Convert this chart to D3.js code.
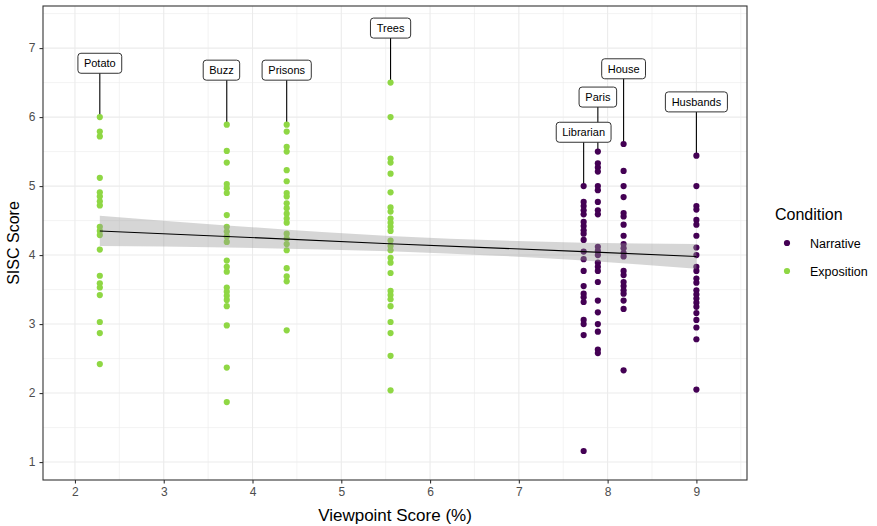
<!DOCTYPE html>
<html>
<head>
<meta charset="utf-8">
<script src="https://cdn.jsdelivr.net/npm/d3@7"></script>
<style>
  body { margin: 0; background: #fff; }
  text { font-family: "Liberation Sans", Arial, sans-serif; }
</style>
</head>
<body>
<script>
// texts, one per column of points
let texts = ["Potato", "Buzz", "Prisons", "Trees", "Librarian", "Paris", "House", "Husbands"];
let condition = ["Exposition", "Exposition", "Exposition", "Exposition", "Narrative", "Narrative", "Narrative", "Narrative"];
let viewpoint = [2.28, 3.71, 4.385, 5.555, 7.73, 7.89, 8.18, 9.0];

// SISC scores per text
let sisc = [
  [6.00, 5.79, 5.72, 5.12, 4.91, 4.85, 4.78, 4.72, 4.41, 4.35, 4.29, 4.08, 3.70, 3.59, 3.53, 3.42, 3.03, 2.87, 2.42],
  [5.89, 5.51, 5.34, 5.03, 4.97, 4.90, 4.58, 4.41, 4.34, 4.27, 4.19, 3.92, 3.83, 3.76, 3.53, 3.47, 3.41, 3.35, 3.26, 2.98, 2.37, 1.87],
  [5.89, 5.79, 5.57, 5.50, 5.23, 5.07, 4.90, 4.85, 4.75, 4.68, 4.60, 4.53, 4.47, 4.31, 4.24, 4.16, 4.07, 3.81, 3.69, 3.62, 2.91],
  [6.50, 6.00, 5.40, 5.34, 5.18, 4.91, 4.69, 4.63, 4.53, 4.47, 4.41, 4.35, 4.21, 4.13, 4.07, 3.96, 3.89, 3.74, 3.48, 3.42, 3.36, 3.26, 3.03, 2.87, 2.54, 2.04],
  [5.00, 4.77, 4.71, 4.65, 4.59, 4.48, 4.42, 4.36, 4.31, 4.22, 4.05, 3.94, 3.77, 3.55, 3.44, 3.39, 3.32, 3.06, 3.00, 2.84, 1.16],
  [5.50, 5.33, 5.27, 5.21, 5.00, 4.94, 4.77, 4.65, 4.59, 4.12, 4.06, 4.00, 3.89, 3.83, 3.77, 3.61, 3.34, 3.17, 3.00, 2.89, 2.63, 2.58],
  [5.61, 5.22, 5.00, 4.84, 4.61, 4.56, 4.44, 4.28, 4.16, 4.10, 4.03, 3.98, 3.77, 3.71, 3.61, 3.55, 3.49, 3.44, 3.34, 3.22, 2.33],
  [5.44, 5.00, 4.71, 4.66, 4.51, 4.44, 4.28, 4.11, 4.00, 3.83, 3.77, 3.66, 3.60, 3.49, 3.43, 3.37, 3.31, 3.25, 3.16, 3.06, 2.95, 2.78, 2.05]
];

// linear fit and its 95% band
let fitX = [2.28, 3.71, 5.545, 7.73, 9.0];
let fitY = [4.35, 4.27, 4.165, 4.05, 3.98];
let fitLo = [4.13, 4.11, 4.055, 3.92, 3.80];
let fitHi = [4.57, 4.43, 4.275, 4.18, 4.16];

// where the repelled labels sit (data units)
let labelX = [2.28, 3.65, 4.385, 5.555, 7.73, 7.89, 8.18, 9.0];
let labelY = [6.78, 6.68, 6.68, 7.29, 5.78, 6.29, 6.70, 6.22];

let xTicks = [2, 3, 4, 5, 6, 7, 8, 9];
let yTicks = [1, 2, 3, 4, 5, 6, 7];
let legendKeys = ["Narrative", "Exposition"];
let colors = { Narrative: "#440154", Exposition: "#8fd744" };

let W = 877, H = 526;
let margin = { top: 6, right: 130, bottom: 46, left: 43 },
  width = W - margin.left - margin.right,
  height = H - margin.top - margin.bottom;

let points = [];
texts.forEach((t, i) => {
  sisc[i].forEach((v) => points.push({ text: t, cond: condition[i], x: viewpoint[i], y: v }));
});

let x = d3.scaleLinear().domain([1.64, 9.57]).range([0, width]);
let y = d3.scaleLinear().domain([0.74, 7.61]).range([height, 0]);

let svg = d3.select("body").append("svg")
  .attr("width", W).attr("height", H);

let g = svg.append("g")
  .attr("transform", "translate(" + margin.left + "," + margin.top + ")");

// grid
let minorX = d3.range(1.5, 10, 1).filter((d) => x(d) > 0 && x(d) < width);
let minorY = d3.range(0.5, 8, 1).filter((d) => y(d) > 0 && y(d) < height);
g.append("g").selectAll("line").data(minorX).enter().append("line")
  .attr("x1", (d) => x(d)).attr("x2", (d) => x(d)).attr("y1", 0).attr("y2", height)
  .attr("stroke", "#ebebeb").attr("stroke-width", 0.6);
g.append("g").selectAll("line").data(minorY).enter().append("line")
  .attr("y1", (d) => y(d)).attr("y2", (d) => y(d)).attr("x1", 0).attr("x2", width)
  .attr("stroke", "#ebebeb").attr("stroke-width", 0.6);
g.append("g").selectAll("line").data(xTicks).enter().append("line")
  .attr("x1", (d) => x(d)).attr("x2", (d) => x(d)).attr("y1", 0).attr("y2", height)
  .attr("stroke", "#ebebeb").attr("stroke-width", 1.1);
g.append("g").selectAll("line").data(yTicks).enter().append("line")
  .attr("y1", (d) => y(d)).attr("y2", (d) => y(d)).attr("x1", 0).attr("x2", width)
  .attr("stroke", "#ebebeb").attr("stroke-width", 1.1);

// label segments (behind points and boxes)
let tops = sisc.map((s) => d3.max(s));
g.append("g").selectAll("line").data(texts).enter().append("line")
  .attr("x1", (d, i) => x(viewpoint[i])).attr("x2", (d, i) => x(viewpoint[i]))
  .attr("y1", (d, i) => y(tops[i])).attr("y2", (d, i) => y(labelY[i]))
  .attr("stroke", "#000").attr("stroke-width", 1.1);

// points
g.append("g").selectAll("circle").data(points).enter().append("circle")
  .attr("cx", (d) => x(d.x)).attr("cy", (d) => y(d.y)).attr("r", 3.1)
  .attr("fill", (d) => colors[d.cond]);

// fit band and line
let fit = fitX.map((d, i) => ({ x: d, f: fitY[i], lo: fitLo[i], hi: fitHi[i] }));
g.append("path").datum(fit)
  .attr("d", d3.area().curve(d3.curveMonotoneX)
    .x((d) => x(d.x)).y0((d) => y(d.lo)).y1((d) => y(d.hi)))
  .attr("fill", "#999999").attr("fill-opacity", 0.4);
g.append("path").datum(fit)
  .attr("d", d3.line().x((d) => x(d.x)).y((d) => y(d.f)))
  .attr("fill", "none").attr("stroke", "#000").attr("stroke-width", 1.1);

// label boxes
let lab = g.append("g").selectAll("g").data(texts).enter().append("g")
  .attr("transform", (d, i) => "translate(" + x(labelX[i]) + "," + y(labelY[i]) + ")");
lab.append("text").attr("text-anchor", "middle").attr("dy", "0.36em")
  .attr("font-size", 11).attr("fill", "#000").text((d) => d)
  .each(function () {
    let bb = this.getBBox();
    d3.select(this.parentNode).insert("rect", "text")
      .attr("x", -bb.width / 2 - 6).attr("y", -10)
      .attr("width", bb.width + 12).attr("height", 20)
      .attr("rx", 3).attr("ry", 3)
      .attr("fill", "#fff").attr("stroke", "#333").attr("stroke-width", 1);
  });

// border
g.append("rect").attr("width", width).attr("height", height)
  .attr("fill", "none").attr("stroke", "#333").attr("stroke-width", 1.1);

// axes
let xAxis = g.append("g").attr("transform", "translate(0," + height + ")")
  .call(d3.axisBottom(x).tickValues(xTicks).tickFormat(d3.format("d")).tickSize(3.5).tickPadding(4));
let yAxis = g.append("g")
  .call(d3.axisLeft(y).tickValues(yTicks).tickFormat(d3.format("d")).tickSize(3.5).tickPadding(4));
[xAxis, yAxis].forEach((ax) => {
  ax.select(".domain").remove();
  ax.selectAll("line").attr("stroke", "#333").attr("stroke-width", 1.1);
  ax.selectAll("text").attr("font-size", 12).attr("fill", "#4d4d4d")
    .attr("font-family", "Liberation Sans, Arial, sans-serif");
});

svg.append("text").attr("x", margin.left + width / 2).attr("y", 521)
  .attr("text-anchor", "middle").attr("font-size", 17).text("Viewpoint Score (%)");
svg.append("text")
  .attr("transform", "translate(19," + (margin.top + height / 2) + ") rotate(-90)")
  .attr("text-anchor", "middle").attr("font-size", 16).text("SISC Score");

// legend
let leg = svg.append("g").attr("transform", "translate(775,0)");
leg.append("text").attr("x", 0).attr("y", 220).attr("font-size", 16).text("Condition");
let items = leg.selectAll("g.item").data(legendKeys).enter().append("g")
  .attr("transform", (d, i) => "translate(0," + (243 + i * 28) + ")");
items.append("circle").attr("cx", 12).attr("cy", 0).attr("r", 3.1)
  .attr("fill", (d) => colors[d]);
items.append("text").attr("x", 35).attr("dy", "0.36em").attr("font-size", 12.5)
  .attr("fill", "#000").text((d) => d);
</script>
</body>
</html>
